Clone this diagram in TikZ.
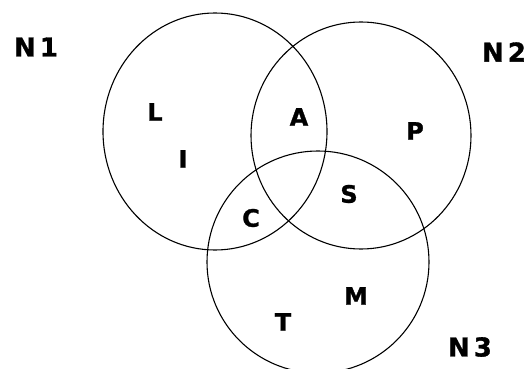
\documentclass[tikz,border=0pt]{standalone}
\usepackage{fontspec}
\setmainfont{Liberation Sans}
\newfontfamily\boldface{DejaVu Sans}[BoldFeatures={FakeBold=1.2}]

\begin{document}
\begin{tikzpicture}[x=1pt,y=-1pt]
\tikzset{
  elt/.style={font=\boldface\fontsize{24}{24}\selectfont\bfseries,inner sep=0pt},
  setname/.style={font=\boldface\fontsize{26}{26}\selectfont\bfseries,inner sep=0pt},
  ring/.style={line width=1.1pt}
}

\clip (0,0) rectangle (531,369);

\draw[ring] (215,131.5) ellipse [x radius=112, y radius=118.5];
\draw[ring] (361,135.5) ellipse [x radius=110, y radius=113.5];
\draw[ring] (318,262) ellipse [x radius=111, y radius=111];

\node[setname] (n1) at (36,47) {N\kern4pt1};
\node[setname] (n2) at (504,52) {N\kern4pt2};
\node[setname] (n3) at (470,347) {N\kern4pt3};

\node[elt] (l) at (155,112) {L};
\node[elt] (i) at (183,159) {I};
\node[elt] (a) at (299,117) {A};
\node[elt] (p) at (415,131) {P};
\node[elt] (s) at (349,194) {S};
\node[elt] (c) at (251,218) {C};
\node[elt] (m) at (356,296) {M};
\node[elt] (t) at (283,322) {T};

\end{tikzpicture}
\end{document}
